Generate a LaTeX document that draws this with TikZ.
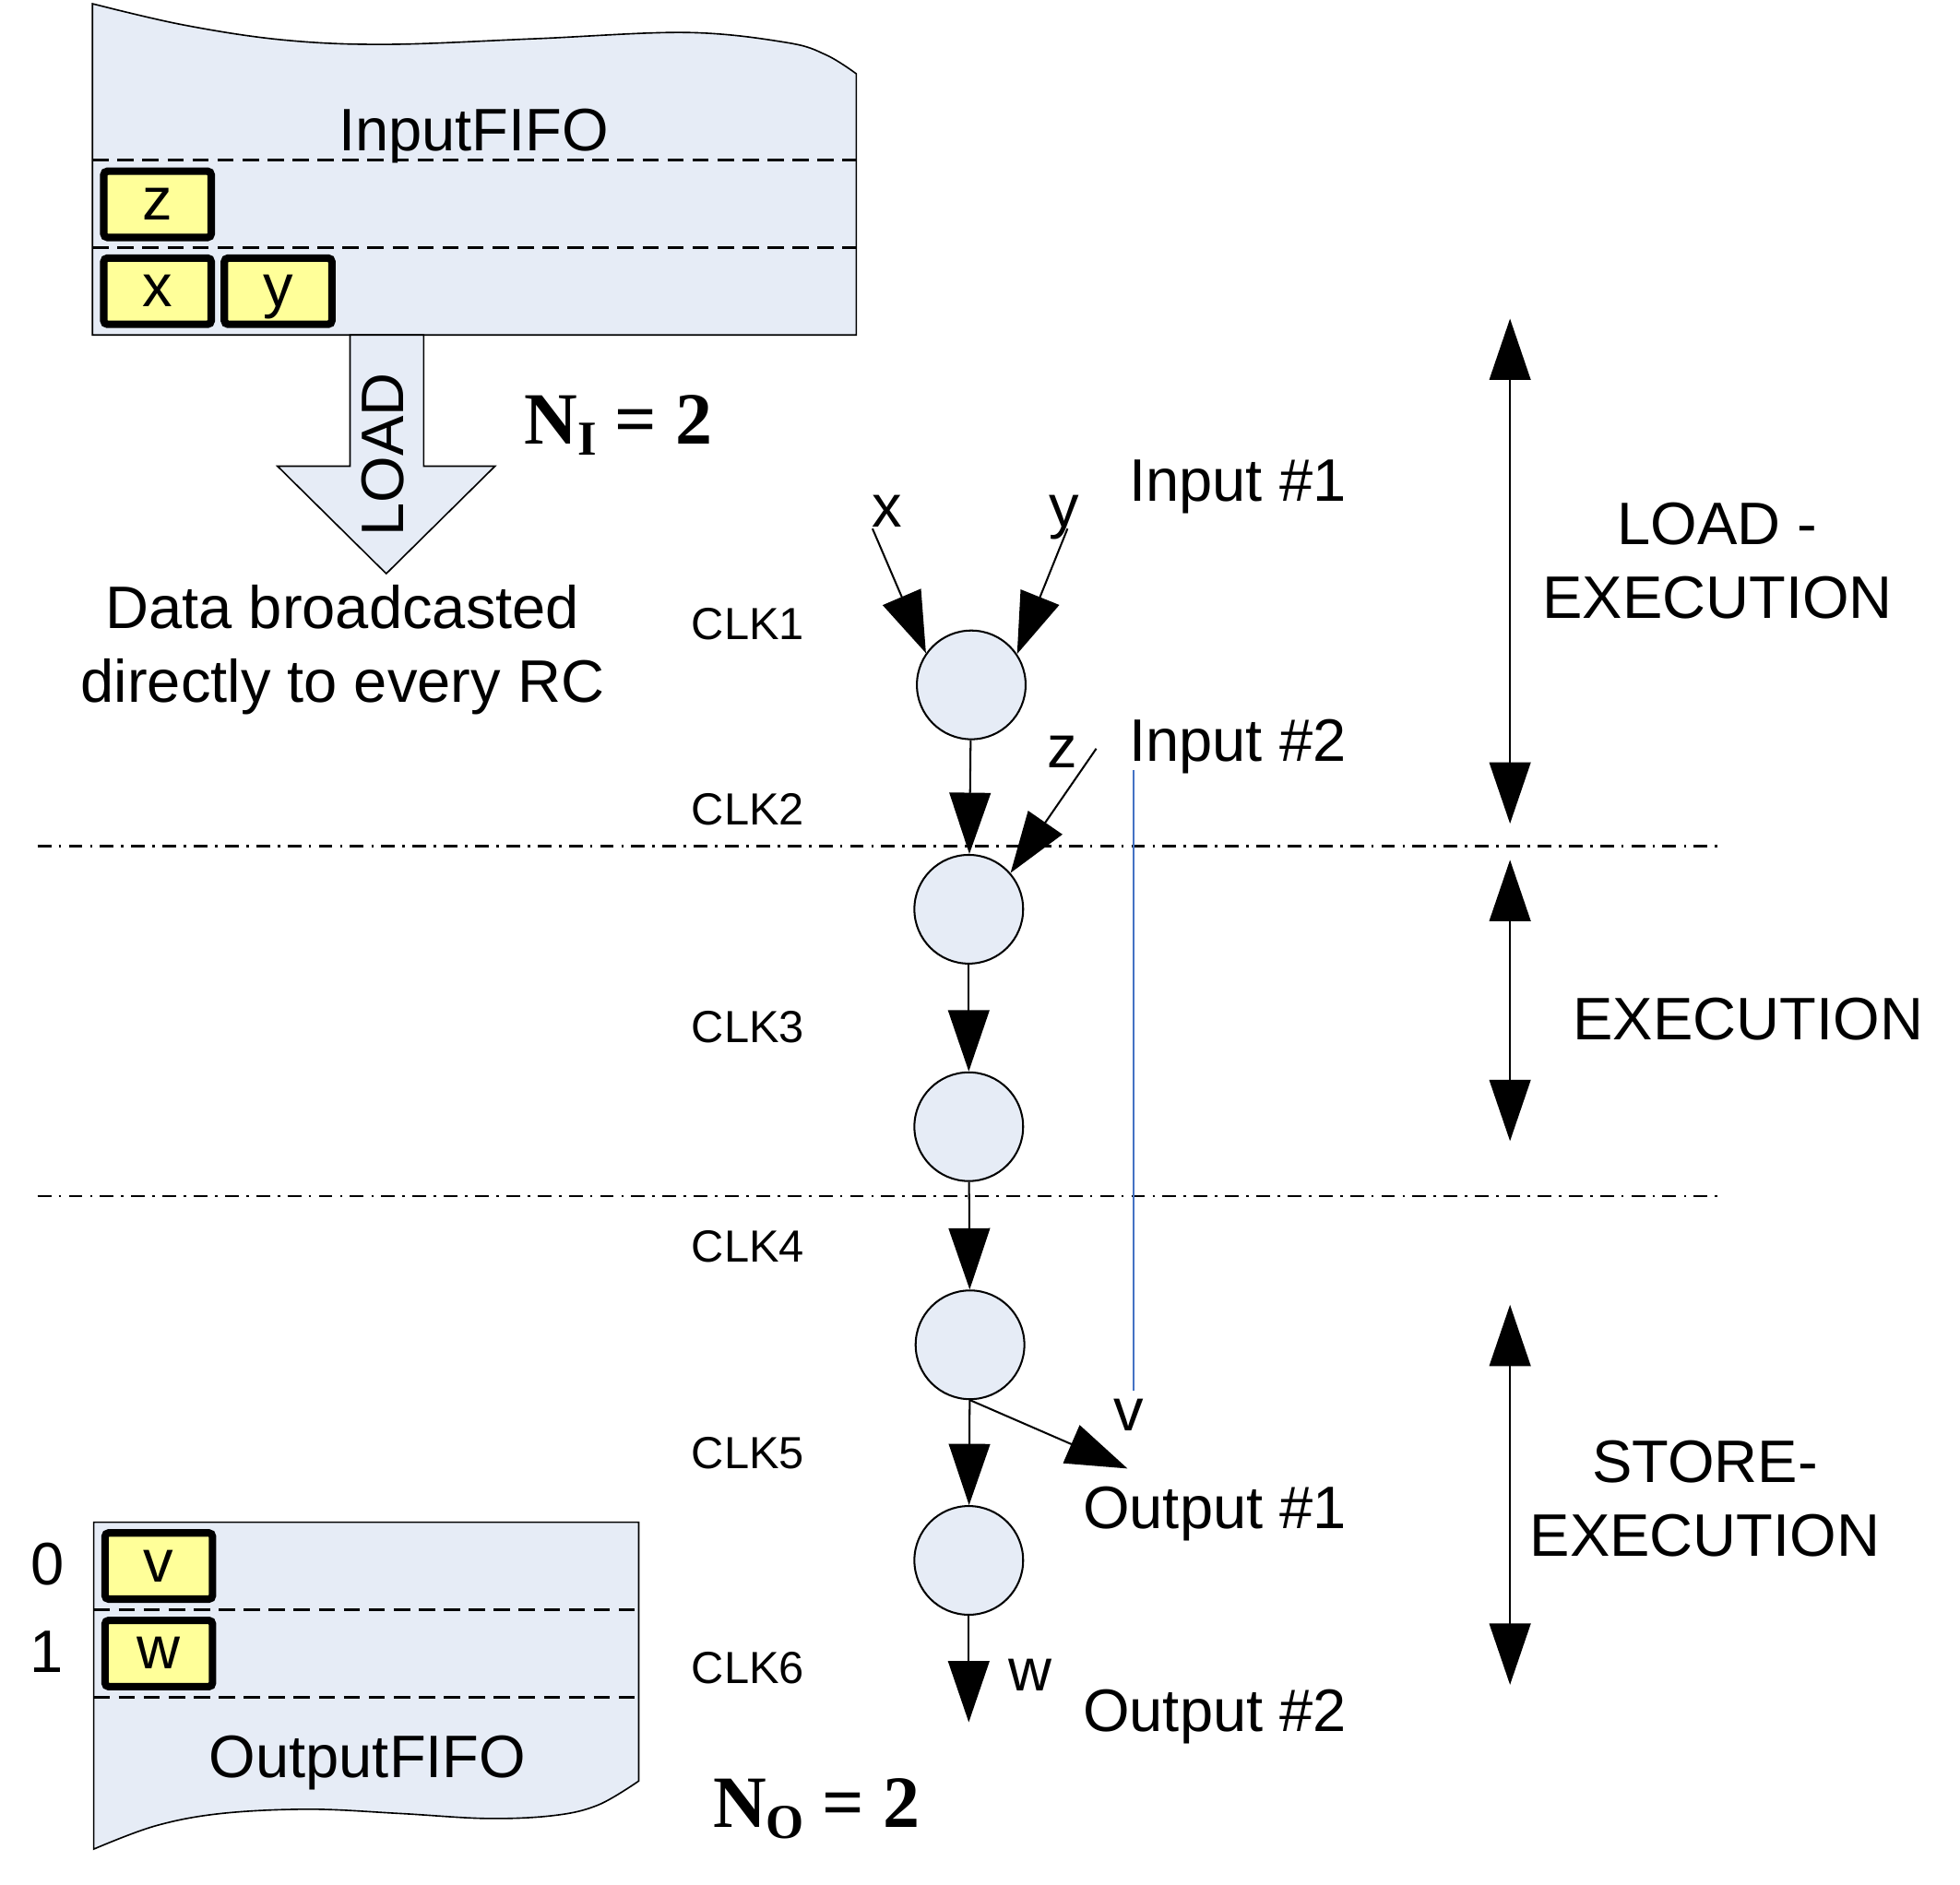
\documentclass[tikz,border=0pt]{standalone}
\usepackage{fontspec}
\setmainfont{Liberation Sans}
\newfontfamily\timesfont{Liberation Serif}
\usetikzlibrary{arrows.meta}
\definecolor{fifofill}{RGB}{230,236,246}
\definecolor{celly}{RGB}{255,255,153}
\definecolor{guideblue}{RGB}{68,114,196}
\tikzset{
  fifo/.style={draw=black, line width=0.6pt, fill=fifofill},
  slotline/.style={draw=black, dash pattern=on 6.5pt off 3.5pt, line width=0.9pt},
  fifocell/.style={draw=black, line width=3pt, fill=celly, rounded corners=1.5pt,
    minimum width=43pt, minimum height=26.5pt, inner sep=0pt, text height=12.5pt, text depth=0pt,
    font=\fontsize{24}{28}\selectfont},
  rc/.style={circle, draw=black, line width=0.75pt, fill=fifofill, minimum size=43.5pt, inner sep=0pt},
  dataflow/.style={line width=0.75pt, -{Triangle[length=24.5pt,width=16.5pt]}},
  phasearrow/.style={line width=0.75pt, {Triangle[length=24.5pt,width=16.5pt]}-{Triangle[length=24.5pt,width=16.5pt]}},
  phaseline/.style={dash pattern=on 5.5pt off 3pt on 1pt off 3pt, line width=0.75pt},
  bigtext/.style={font=\fontsize{24}{29.5}\selectfont, inner sep=0pt},
  clktext/.style={font=\fontsize{18}{22}\selectfont, inner sep=0pt, anchor=base west},
  eqtext/.style={font=\timesfont\bfseries\fontsize{29.5}{34}\selectfont, inner sep=0pt, anchor=base west},
}
\begin{document}
\begin{tikzpicture}[x=0.5pt,y=-0.5pt]
\useasboundingbox (0,0) rectangle (1568,1508);

% ---------- Input FIFO ----------
\draw[fifo] (74,268) -- plot[smooth, tension=0.6] coordinates
  {(74,3) (147,20) (227,32) (310,35.5) (428,31) (549,26) (629,34) (661,44) (685,59)}
  -- (685,268) -- cycle;
\draw[slotline] (74,128) -- (685,128);
\draw[slotline] (74,198) -- (685,198);
\node[bigtext, anchor=base] (ififo) at (379,121) {InputFIFO};
\node[fifocell] (cz) at (126,163.5) {z};
\node[fifocell] (cx) at (126,233) {x};
\node[fifocell] (cy) at (222.5,233) {y};

% LOAD block arrow
\draw[fifo] (280,268) -- (280,373) -- (222,373) -- (309,459) -- (396,373) -- (339,373) -- (339,268) -- cycle;
\node[bigtext, rotate=90] (loadlbl) at (306,363.5) {LOAD};
\node[eqtext] (ni) at (419,355) {N\raisebox{-4.5pt}{\fontsize{19.5}{22}\selectfont I} = 2};
\node[bigtext, align=center, anchor=base] (bcast) at (274,562) {Data broadcasted\\directly to every RC};

% ---------- Output FIFO ----------
\draw[fifo] (75,1218) -- (511,1218) -- plot[smooth, tension=0.6] coordinates
  {(511,1425) (479,1444) (444,1452.5) (390,1455) (320,1451) (248,1447.6) (177,1451) (124,1461) (75,1479.5)}
  -- cycle;
\draw[slotline] (75,1288) -- (511,1288);
\draw[slotline] (75,1358) -- (511,1358);
\node[fifocell] (cv) at (127,1253) {v};
\node[fifocell] (cw) at (127,1323) {w};
\node[bigtext, anchor=base] (idx0) at (38,1268) {0};
\node[bigtext, anchor=base] (idx1) at (37,1338) {1};
\node[bigtext, anchor=base] (ofifo) at (294,1422) {OutputFIFO};
\node[eqtext] (no) at (570,1462) {N\raisebox{-4.5pt}{\fontsize{19.5}{22}\selectfont O} = 2};

% ---------- phase separators ----------
\coordinate (p1a) at (30,677);  \coordinate (p1b) at (1378,677);
\coordinate (p2a) at (30,957);  \coordinate (p2b) at (1378,957);
\draw[phaseline] (p1a) -- (p1b);
\draw[phaseline] (p2a) -- (p2b);

% blue guide
\coordinate (g1) at (907,616); \coordinate (g2) at (907,1113);
\draw[guideblue, line width=0.6pt] (g1) -- (g2);

% ---------- RC chain ----------
\node[rc] (c1) at (777,548) {};
\node[rc] (c2) at (775,727.5) {};
\node[rc] (c3) at (775,901.5) {};
\node[rc] (c4) at (776,1076) {};
\node[rc] (c5) at (775,1248.5) {};

\coordinate (xin) at (698,423);
\coordinate (yin) at (854,423);
\coordinate (zin) at (877,599);
\coordinate (vout) at (902,1175);
\coordinate (wout) at (775,1378);

\draw[dataflow] (xin) -- (c1.145);
\draw[dataflow] (yin) -- (c1.34);
\draw[dataflow] (zin) -- (c2.41);
\draw[dataflow] (c1) -- (c2);
\draw[dataflow] (c2) -- (c3);
\draw[dataflow] (c3) -- (c4);
\draw[dataflow] (c4) -- (c5);
\draw[dataflow] (c4.south) -- (vout);
\draw[dataflow] (c5.south) -- (wout);

\node[bigtext, anchor=base] (lx) at (710,422) {x};
\node[bigtext, anchor=base] (ly) at (851,422) {y};
\node[bigtext, anchor=base] (lz) at (850,614) {z};
\node[bigtext, anchor=base] (lv) at (903,1145) {v};
\node[bigtext, anchor=base] (lw) at (824,1353) {w};

\node[bigtext, anchor=base west] (in1) at (903,401) {Input \#1};
\node[bigtext, anchor=base west] (in2) at (903,609) {Input \#2};
\node[bigtext, anchor=base west] (out1) at (866,1223) {Output \#1};
\node[bigtext, anchor=base west] (out2) at (866,1385) {Output \#2};

% ---------- CLK labels ----------
\node[clktext] (k1) at (553,512) {CLK1};
\node[clktext] (k2) at (553,660) {CLK2};
\node[clktext] (k3) at (553,834) {CLK3};
\node[clktext] (k4) at (553,1010) {CLK4};
\node[clktext] (k5) at (553,1175) {CLK5};
\node[clktext] (k6) at (553,1347) {CLK6};

% ---------- phase spans ----------
\coordinate (s1a) at (1208,255);  \coordinate (s1b) at (1208,659);
\coordinate (s2a) at (1208,688);  \coordinate (s2b) at (1208,913);
\coordinate (s3a) at (1208,1044); \coordinate (s3b) at (1208,1348);
\draw[phasearrow] (s1a) -- (s1b);
\draw[phasearrow] (s2a) -- (s2b);
\draw[phasearrow] (s3a) -- (s3b);
\node[bigtext, align=center, anchor=base] (ph1) at (1374,495) {LOAD -\\EXECUTION};
\node[bigtext, anchor=base] (ph2) at (1398.5,832) {EXECUTION};
\node[bigtext, align=center, anchor=base] (ph3) at (1364,1245) {STORE-\\EXECUTION};
\end{tikzpicture}
\end{document}
